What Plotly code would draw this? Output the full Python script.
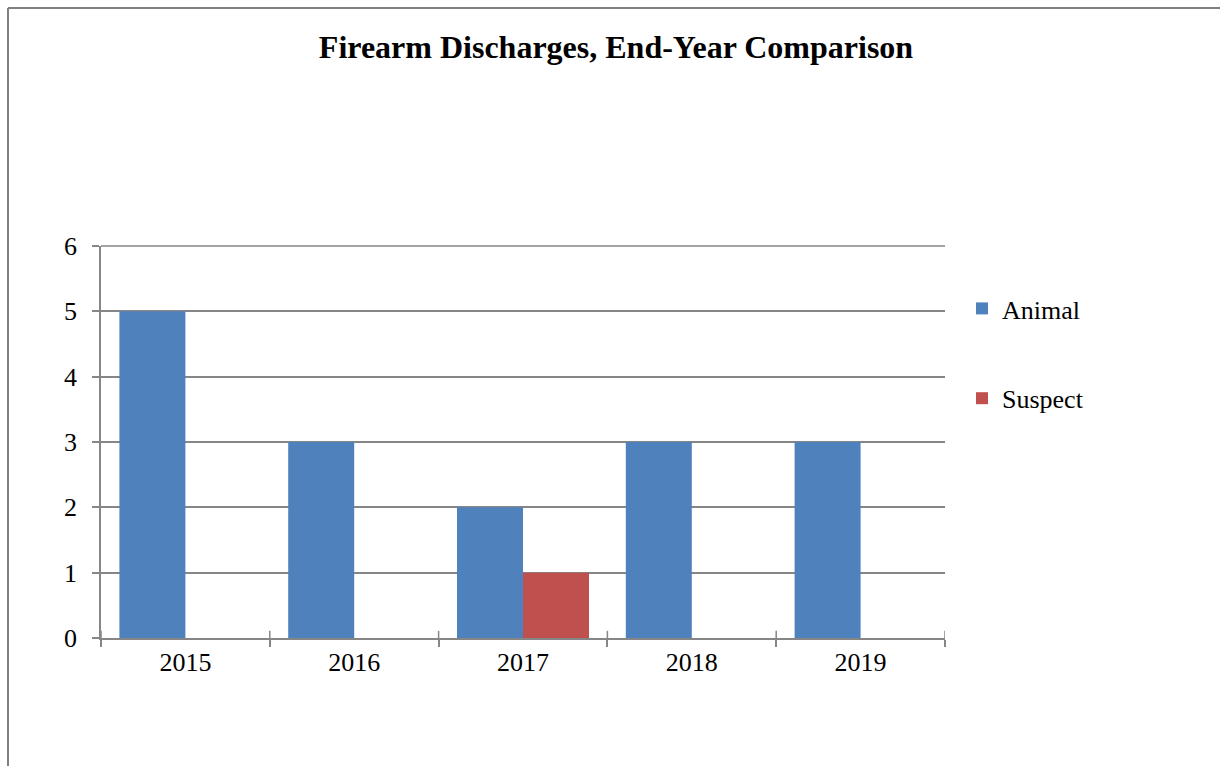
import plotly.graph_objects as go

# Year-end firearm discharge counts by type
years = ["2015", "2016", "2017", "2018", "2019"]
animal = [5, 3, 2, 3, 3]
suspect = [0, 0, 1, 0, 0]
y_ticks = [0, 1, 2, 3, 4, 5, 6]

BLUE = "#4F81BD"
RED = "#C0504D"
GRID = "#868686"
FONT = "Liberation Serif, Times New Roman, serif"

W, H = 1220, 766
L, R, T, B = 101, 275, 246, 128
pw, ph = W - L - R, H - T - B

fig = go.Figure()
fig.add_trace(go.Bar(x=years, y=animal, name="Animal", marker_color=BLUE,
                     marker_line_width=0, legendgroup="a"))
fig.add_trace(go.Bar(x=years, y=suspect, name="Suspect", marker_color=RED,
                     marker_line_width=0, legendgroup="s"))

shapes = []
# tick marks on the category axis extend above the baseline as well
for i in range(len(years) + 1):
    shapes.append(dict(type="line", xref="x", yref="y", x0=i - 0.5, x1=i - 0.5,
                       y0=0, y1=0.11, line=dict(color=GRID, width=1.5)))
# gridline along the top of the value range (drawn unclipped)
shapes.append(dict(type="line", xref="paper", yref="paper", x0=0, x1=1,
                   y0=1, y1=1, line=dict(color=GRID, width=1.5)))
# outer frame of the chart area (top and left edges)
fx0 = (8 - L) / pw
fy_top = 1 + (T - 8) / ph
shapes.append(dict(type="line", xref="paper", yref="paper", x0=fx0, x1=(W - L) / pw + 0.01,
                   y0=fy_top, y1=fy_top, line=dict(color="#808080", width=2)))
shapes.append(dict(type="line", xref="paper", yref="paper", x0=fx0, x1=fx0,
                   y0=fy_top, y1=-B / ph - 0.01, line=dict(color="#808080", width=2)))

fig.update_layout(
    width=W, height=H,
    margin=dict(l=L, r=R, t=T, b=B),
    paper_bgcolor="white", plot_bgcolor="white",
    barmode="group", bargap=0.218, bargroupgap=0,
    title=dict(text="<b>Firearm Discharges, End-Year Comparison</b>",
               font=dict(family=FONT, size=32, color="black"),
               x=616 / W, xanchor="center", y=1 - 47 / H, yanchor="middle"),
    font=dict(family=FONT, size=26, color="black"),
    showlegend=True,
    legend=dict(x=(962 - L) / pw, xanchor="left", y=1 - (311 - T - 26) / ph, yanchor="top",
                traceorder="grouped", tracegroupgap=53,
                font=dict(family=FONT, size=26, color="black"),
                bgcolor="rgba(0,0,0,0)"),
    xaxis=dict(type="category", showgrid=False, showline=True, linecolor=GRID, linewidth=1.5,
               ticks="outside", ticklen=7, tickcolor=GRID, tickwidth=1.5,
               tickson="boundaries", range=[-0.5, 4.5], zeroline=False),
    yaxis=dict(range=[0, 6], tickvals=y_ticks, showgrid=True, gridcolor=GRID, gridwidth=1.5,
               showline=True, linecolor=GRID, linewidth=1.5, ticks="outside", ticklen=7,
               tickcolor=GRID, tickwidth=1.5, zeroline=False, ticklabelstandoff=10),
    shapes=shapes,
)

fig.write_html("out.html")
